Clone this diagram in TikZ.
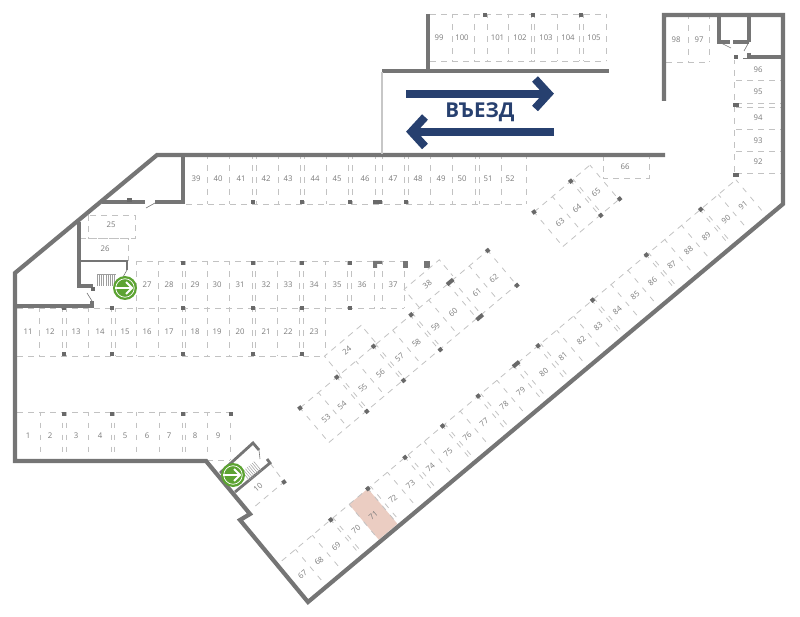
\documentclass[tikz,border=0pt]{standalone}
\usepackage{fontspec}
\setmainfont{Open Sans}
\definecolor{wallgray}{HTML}{757575}
\definecolor{baygray}{HTML}{C2C2C2}
\definecolor{numgray}{HTML}{7A7A7A}
\definecolor{navy}{HTML}{27406F}
\definecolor{exitgreen}{HTML}{5CA332}
\definecolor{pink}{HTML}{EBCDC2}
\tikzset{
wall/.style={draw=wallgray, line width=4.2pt, miter limit=10},
thinwall/.style={draw=wallgray, line width=1.4pt},
door/.style={draw=wallgray, line width=0.6pt},
bay/.style={draw=baygray, line width=0.8pt, dash pattern=on 5.5pt off 6.5pt, dash phase=1.5pt},
bayh/.style={draw=baygray, line width=0.8pt, dash pattern=on 6pt off 5pt},
pillar/.style={fill=wallgray!90!black, inner sep=0pt, minimum size=4pt},
num/.style={text=numgray, font=\fontsize{7.8pt}{8pt}\selectfont, inner sep=0pt},
numr/.style={num, rotate=40},
pillarr/.style={pillar, rotate=40},
stairline/.style={draw=wallgray!70, line width=0.5pt},
bigarrow/.style={draw=navy, line width=8pt, miter limit=10}
}

\begin{document}
\begin{tikzpicture}[x=1pt, y=-1pt]
\useasboundingbox (0,0) rectangle (800,617);

% parking bay in the long row, coloured
\begin{scope}[shift={(284,559)}, rotate=40]
\fill[pink] (85,0) rectangle (109.5,46);
\end{scope}

% straight rows
\foreach \x in {207, 229, 252, 256, 278, 300, 304, 326, 348, 352, 375, 382, 404, 408, 430, 452, 475, 479, 501, 526} {
\draw[bay] (\x,155) -- (\x,204);
}
\draw[bayh] (186,204) -- (526,204);
\foreach \x/\t in {196/39, 218/40, 241/41, 266/42, 288/43, 315/44, 337/45, 365/46, 393/47, 418/48, 441/49, 462/50, 488/51, 510/52} {
\node[num] (n\t) at (\x,179) {\t};
}

\foreach \x in {136, 158, 182, 185, 207, 229, 252, 255, 277, 299, 303, 325, 347, 351, 374, 382, 404} {
\draw[bay] (\x,261) -- (\x,308);
}
\draw[bayh] (136,261) -- (404,261);
\draw[bayh] (17,308) -- (404,308);
\foreach \x/\t in {147/27, 169/28, 195/29, 217/30, 240/31, 266/32, 288/33, 314/34, 337/35, 362/36, 393/37} {
\node[num] (n\t) at (\x,285) {\t};
}

\foreach \x in {39, 62, 66, 88, 111, 115, 136, 158, 182, 185, 207, 229, 252, 255, 277, 299, 303, 325} {
\draw[bay] (\x,308) -- (\x,356);
}
\draw[bayh] (17,356) -- (325,356);
\foreach \x/\t in {28/11, 50/12, 76/13, 100/14, 125/15, 147/16, 169/17, 195/18, 217/19, 240/20, 266/21, 288/22, 314/23} {
\node[num] (n\t) at (\x,332) {\t};
}

\foreach \x in {40, 62, 66, 88, 111, 114, 136, 159, 182, 185, 207, 230} {
\draw[bay] (\x,412) -- (\x,460);
}
\draw[bayh] (17,412) -- (231,412);
\draw[bayh] (207,460) -- (230,460);
\foreach \x/\t in {28/1, 50/2, 76/3, 100/4, 125/5, 147/6, 169/7, 195/8, 218/9} {
\node[num] (n\t) at (\x,436) {\t};
}

\draw[bayh] (88,215) rectangle (135,238);
\draw[bayh] (80,238) -- (128,238) -- (128,261);
\node[num] (n25) at (111,225) {25};
\node[num] (n26) at (105,249) {26};

\foreach \x in {452, 474, 487, 508, 531, 534, 557, 579, 583, 606} {
\draw[bay] (\x,14) -- (\x,61);
}
\draw[bayh] (430,14) -- (606,14);
\draw[bayh] (430,61) -- (606,61);
\foreach \x/\t in {439/99, 462/100, 497.5/101, 520/102, 546/103, 568/104, 594/105} {
\node[num] (n\t) at (\x,38) {\t};
}

\foreach \x in {688, 709} {
\draw[bay] (\x,15) -- (\x,62);
}
\draw[bayh] (666,62) -- (709,62);
\node[num] (n98) at (676,40) {98};
\node[num] (n97) at (699,40) {97};

\draw[bayh] (603,155) -- (603,178) -- (649,178) -- (649,155);
\node[num] (n66) at (625,167) {66};

\draw[bay] (734,60) -- (734,175);
\foreach \y in {80, 103, 107, 129, 151, 173.5} {
\draw[bayh] (736,\y) -- (781,\y);
}
\foreach \y/\t in {70/96, 92/95, 118/94, 141/93, 162/92} {
\node[num] (n\t) at (758,\y) {\t};
}

% pillars
\foreach \x in {253, 301.5, 350, 406} {
\node[pillar] (pa\x) at (\x,202) {};
}
\node[pillar, minimum width=9pt] (pa378) at (377.5,202) {};
\foreach \x in {183, 253, 301.5, 350} {
\node[pillar] (pb\x) at (\x,263) {};
}
\fill[wallgray] (373,261) -- (382,261) -- (382,264) -- (377,264) -- (377,268) -- (373,268) -- cycle;
\fill[wallgray] (403,261) rectangle (408,268);
\fill[wallgray] (424,261) rectangle (430,268);
\foreach \x in {64, 112, 183, 253, 301.5, 350} {
\node[pillar] (pc\x) at (\x,308.5) {};
}
\foreach \x in {64, 112, 183, 253, 301.5} {
\node[pillar] (pd\x) at (\x,354) {};
}
\foreach \x in {63.5, 112, 183, 231} {
\node[pillar] (pe\x) at (\x,414) {};
}
\foreach \x in {485, 533, 581} {
\node[pillar] (pf\x) at (\x,15.5) {};
}
\node[pillar] (pg1) at (736,57) {};
\node[pillar, minimum width=6pt] (pg2) at (736,105) {};
\node[pillar, minimum width=6pt] (pg3) at (736,175) {};

% row 53 - 62
\begin{scope}[shift={(300,408)}, rotate=40]
\foreach \a in {0, 24, 48, 51, 73, 96, 99, 121, 144, 147, 168, 193, 199, 221, 245} {
\draw[bay] (\a,0) -- (\a,45);
}
\draw[bayh] (0,0) -- (245,0);
\draw[bayh] (0,45) -- (245,45);
\foreach \a/\t in {13/53, 34/54, 61/55, 84/56, 109/57, 131/58, 156/59, 179/60, 210/61, 232/62} {
\node[numr] (n\t) at (\a,25) {\t};
}
\foreach \a in {0, 48, 96, 145, 245} {
\node[pillarr] (ph\a) at (\a,0) {};
}
\foreach \a in {49, 97, 145, 245} {
\node[pillarr] (pi\a) at (\a,45.5) {};
}
\node[pillarr, minimum width=8pt] (ph196) at (196,0) {};
\node[pillarr, minimum width=8pt] (pi196) at (196,46) {};
% 24 and 38 stand on top of the row
\draw[bayh] (52,0) -- (52,-24) -- (100,-24) -- (100,0);
\node[numr] (n24) at (73,-14) {24};
\draw[bayh] (156,0) -- (156,-24) -- (202,-24) -- (202,-3);
\node[numr] (n38) at (177,-13) {38};
\end{scope}

% row 63 - 65
\begin{scope}[shift={(534,212)}, rotate=40]
\foreach \a in {0, 24, 48, 51, 73} {
\draw[bay] (\a,0) -- (\a,45);
}
\draw[bayh] (0,0) -- (73,0);
\draw[bayh] (0,45) -- (73,45);
\foreach \a/\t in {13/63, 35/64, 60/65} {
\node[numr] (n\t) at (\a,25) {\t};
}
\node[pillarr] (pj1) at (0,0) {};
\node[pillarr] (pj2) at (48,0) {};
\node[pillarr] (pj3) at (49,45.5) {};
\node[pillarr] (pj4) at (74,45) {};
\end{scope}

% row 67 - 91
\begin{scope}[shift={(284,559)}, rotate=40]
\foreach \a in {15, 37, 61, 64, 85, 109.5, 113, 135, 158, 162, 183, 207, 210, 230, 253, 257, 278, 300, 305, 331, 335, 356, 378, 402, 405, 427, 449, 473, 476, 497, 519, 543, 546, 567, 590} {
\draw[bay] (\a,0) -- (\a,47);
}
\draw[bayh] (-3,0) -- (590,0);
\foreach \a/\t in {4/67, 25.5/68, 48/69, 74/70, 96.5/71, 122/72, 145/73, 171/74, 194/75, 219/76, 241/77, 267/78, 289/79, 319/80, 344/81, 368/82, 390/83, 415/84, 438/85, 461/86, 486/87, 508/88, 531/89, 557/90, 579/91} {
\node[numr] (n\t) at (\a,24) {\t};
}
\foreach \a in {61, 109.5, 158, 207, 253.5, 331.7, 402.8, 473, 544} {
\node[pillarr] (pk\a) at (\a,0) {};
}
\node[pillarr, minimum width=8pt] (pk303) at (303,0) {};
\end{scope}

% bay 10
\draw[bayh] (270,463) -- (284,482) -- (253,508);
\node[pillarr] (pl1) at (284,482) {};
\node[numr] (n10) at (258,487) {10};

% walls
\draw[wall] (664,101) -- (664,15) -- (783,15) -- (783,204) -- (308,602) -- (240,520) -- (250,514) -- (206,461) -- (15,461) -- (15,273) -- (157,155) -- (665,155);
\draw[wall] (428,14) -- (428,71);
\draw[wall] (382,71) -- (609,71);
\draw[draw=black!22, line width=1.2pt] (382,72) -- (382,154);
\draw[wall] (183,155) -- (183,202) -- (155,202);
\draw[wall] (145,202) -- (102,202);
\node[pillar, minimum width=5pt] (pm1) at (129,200.5) {};
\draw[door] (146,208) -- (155,203);
\draw[wall] (79,222) -- (79,286) -- (93,286);
\draw[thinwall] (80,261) -- (127,261) -- (127,270);
\draw[door] (127,270) -- (123,277);
\node[pillar] (pm2) at (92.5,289) {};
\draw[wall] (16,306) -- (92,306) -- (92,301);
\draw[door] (87,293) -- (92,301);
\draw[wall] (719,15) -- (719,42) -- (730,42);
\draw[door] (719,42) -- (731,48);
\draw[wall] (733,42) -- (749,42);
\draw[wall] (749,15) -- (749,42);
\draw[door] (749,42) -- (744,51);
\draw[wall] (749,53) -- (749,57) -- (781,57);
\draw[door] (743,58) -- (749,58);
\draw[wall, line width=2.8pt] (220,473) -- (253,443) -- (259,450);
\draw[wall, line width=2.8pt] (235,492) -- (270,463) -- (267,459);
\draw[door] (259,450) -- (260,459);

% stairs
\foreach \x in {97, 99.2, ..., 116} {
\draw[stairline] (\x,274.5) -- (\x,286);
}
\draw[stairline] (97,274.5) -- (116,274.5);
\begin{scope}[shift={(252,471)}, rotate=40]
\foreach \a in {-8, -5.8, ..., 8} {
\draw[stairline] (\a,-6) -- (\a,6);
}
\end{scope}

% exits
\foreach \x/\y in {125/288, 233/475} {
\node[circle, fill=exitgreen, inner sep=0pt, minimum size=24pt] (exit\x) at (\x,\y) {};
\node[circle, draw=white, line width=0.7pt, inner sep=0pt, minimum size=18.5pt] (ring\x) at (\x,\y) {};
\draw[white, line width=1.8pt] (\x-10,\y) -- (\x+7,\y);
\draw[white, line width=1.8pt] (\x+1,\y-6) -- (\x+7,\y) -- (\x+1,\y+6);
}

% entrance arrows
\draw[bigarrow] (406,93.7) -- (548,93.7);
\draw[bigarrow] (535,79) -- (548.5,93.7) -- (535,108.5);
\draw[bigarrow] (554,131.7) -- (412,131.7);
\draw[bigarrow] (425,117) -- (411.5,131.7) -- (425,146.5);
\node[text=navy, font=\fontsize{20.5pt}{22pt}\selectfont\bfseries, inner sep=0pt] (entry) at (480,112) {ВЪЕЗД};
\end{tikzpicture}
\end{document}
